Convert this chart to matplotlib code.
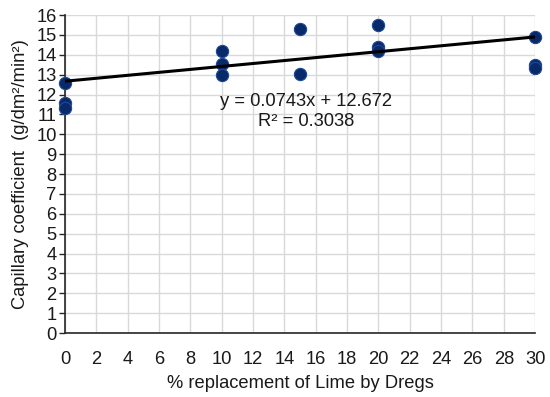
import numpy as np
import matplotlib
matplotlib.use("Agg")
import matplotlib.pyplot as plt

# measured points (replacement %, capillary coefficient)
replacement = [0, 0, 0, 10, 10, 10, 15, 15, 20, 20, 20, 30, 30, 30]
capillary = [12.6, 11.6, 11.3, 14.2, 13.55, 13.0, 15.3, 13.05, 15.5, 14.4, 14.2, 14.9, 13.5, 13.35]

# linear trendline as printed on the chart
slope = 0.0743
intercept = 12.672
r_squared = 0.3038

x_ticks = list(range(0, 31, 2))
y_ticks = list(range(0, 17))

plt.rcParams['font.family'] = ['Liberation Sans', 'DejaVu Sans']

fig = plt.figure(figsize=(5.5, 3.97), dpi=100)
ax = fig.add_axes([0.118, 0.161, 0.855, 0.801])

ax.set_xlim(0, 30)
ax.set_ylim(0, 16)
ax.set_xticks(x_ticks)
ax.set_yticks(y_ticks)
ax.grid(True, color='#d9d9d9', linewidth=1.0)
ax.set_axisbelow(True)

for side in ['top', 'right']:
    ax.spines[side].set_visible(False)
for side in ['left', 'bottom']:
    ax.spines[side].set_color('#262626')
    ax.spines[side].set_linewidth(1.2)

fs = 13.2
ax.tick_params(axis='x', length=0, pad=13, labelsize=fs, colors='#1a1a1a')
ax.tick_params(axis='y', length=4, width=1.0, color='#262626', pad=2,
               labelsize=fs, labelcolor='#1a1a1a')

ax.scatter(replacement, capillary, s=78, color='#08296a', edgecolors='#1f4a96',
           linewidths=0.8, zorder=3, clip_on=False)

xs = np.array([0, 30])
ax.plot(xs, slope * xs + intercept, color='black', linewidth=2.2, zorder=4,
        solid_capstyle='butt')

ax.text(15.4, 11.15, 'y = %.4fx + %.3f\nR² = %.4f' % (slope, intercept, r_squared),
        ha='center', va='center', fontsize=fs, color='#1a1a1a', linespacing=1.25)

ax.set_xlabel('% replacement of Lime by Dregs', fontsize=fs, color='#1a1a1a', labelpad=5)
ax.set_ylabel('Capillary coefficient  (g/dm²/min²)', fontsize=fs,
              color='#1a1a1a', labelpad=5)

fig.savefig('out.png', dpi=100)
